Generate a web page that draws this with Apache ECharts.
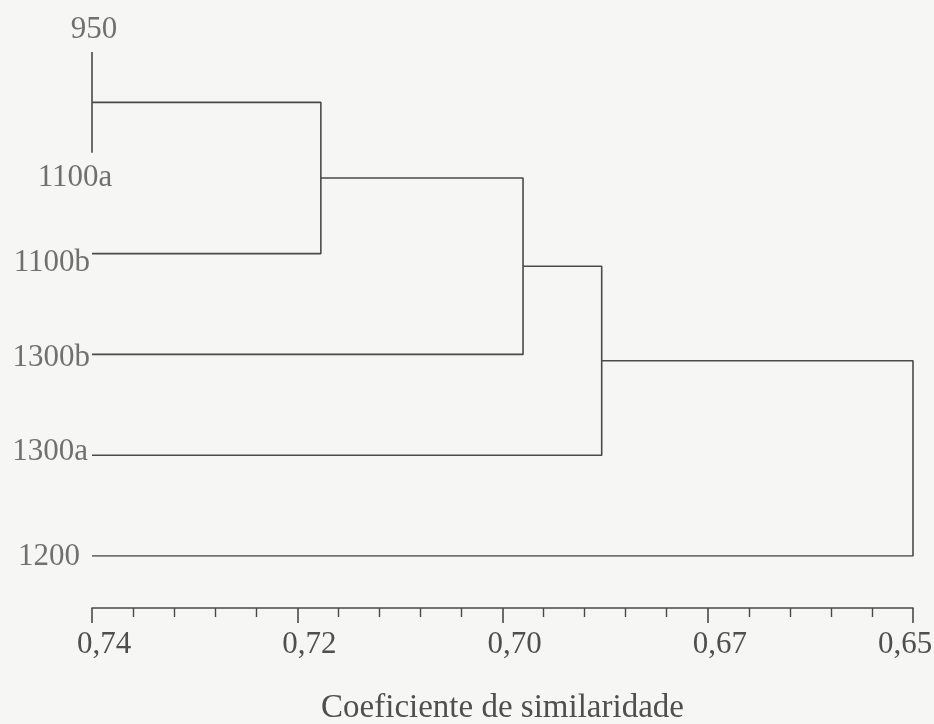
<!DOCTYPE html>
<html>
<head>
<meta charset="utf-8">
<script src="https://cdn.jsdelivr.net/npm/echarts@6/dist/echarts.min.js"></script>
<style>
  html, body { margin: 0; padding: 0; background: #f6f6f4; }
  #chart { width: 934px; height: 724px; }
</style>
</head>
<body>
<div id="chart"></div>
<script>
// ---- data ----
const leaves = ['950', '1100a', '1100b', '1300b', '1300a', '1200'];
const tickLabels = [0.74, 0.72, 0.70, 0.67, 0.65];
// merge k joins node mergeA[k] and node mergeB[k]; ids >= leaves.length are earlier merges
const mergeA = [0, 6, 7, 8, 9];
const mergeB = [1, 2, 3, 4, 5];
const mergeSim = [0.74, 0.7177, 0.697, 0.6855, 0.65];

// ---- helpers ----
// the printed axis labels are equally spaced: map a similarity onto label position
function toAxis(s) {
  for (let i = 0; i < tickLabels.length - 1; i++) {
    const a = tickLabels[i], b = tickLabels[i + 1];
    if (s <= a && s >= b) return i + (a - s) / (a - b);
  }
  return s > tickLabels[0] ? 0 : tickLabels.length - 1;
}

const nodes = leaves.map((n, i) => ({ x: 0, y: i }));
const series = [];
const lineColor = '#4a4a4a';
const textColor = '#4f4f4f';
const font = "'Liberation Serif', 'Times New Roman', serif";

mergeSim.forEach((s, k) => {
  const A = nodes[mergeA[k]], B = nodes[mergeB[k]];
  const u = toAxis(s);
  series.push({
    type: 'line',
    symbol: 'none',
    silent: true,
    lineStyle: { color: lineColor, width: 1.6 },
    data: [[A.x, A.y], [u, A.y], [u, B.y], [B.x, B.y]],
    animation: false
  });
  nodes.push({ x: u, y: (A.y + B.y) / 2 });
});

// leaf label placement (style only)
const leafLabelStyle = [
  { position: 'inside', offset: [2, -22] },
  { position: 'inside', offset: [-17, 25] },
  { position: 'left', distance: 2, offset: [0, 9] },
  { position: 'left', distance: 2, offset: [0, 3] },
  { position: 'left', distance: 4, offset: [0, -3] },
  { position: 'left', distance: 12, offset: [0, 1] }
];

series.push({
  type: 'scatter',
  symbolSize: 0,
  silent: true,
  animation: false,
  data: leaves.map((name, i) => ({
    value: [0, i],
    label: Object.assign({
      show: true,
      formatter: name,
      color: textColor,
      fontFamily: font,
      fontSize: 31
    }, leafLabelStyle[i])
  }))
});

const chart = echarts.init(document.getElementById('chart'));
chart.setOption({
  backgroundColor: '#f6f6f4',
  animation: false,
  grid: { left: 92, right: 21, top: 52, height: 504, containLabel: false, outerBoundsMode: 'none' },
  xAxis: {
    type: 'value',
    min: 0,
    max: tickLabels.length - 1,
    interval: 1,
    position: 'bottom',
    offset: 52,
    name: 'Coeficiente de similaridade',
    nameLocation: 'middle',
    nameGap: 84,
    nameTextStyle: { color: textColor, fontFamily: font, fontSize: 33 },
    axisLine: { show: true, onZero: false, lineStyle: { color: lineColor, width: 1.6 } },
    axisTick: { show: true, inside: false, length: 15, lineStyle: { color: lineColor, width: 1.6 } },
    minorTick: { show: true, splitNumber: 5, length: 9, lineStyle: { color: lineColor, width: 1.4 } },
    splitLine: { show: false },
    minorSplitLine: { show: false },
    axisLabel: {
      showMinLabel: true,
      showMaxLabel: true,
      margin: 21,
      color: textColor,
      fontFamily: font,
      fontSize: 31,
      formatter: function (v) {
        const i = Math.round(v);
        const t = tickLabels[i].toFixed(2).replace('.', ',');
        return i === tickLabels.length - 1 ? '{b|' + t + '}' : '{a|' + t + '}';
      },
      rich: {
        a: { padding: [0, 0, 0, 24], color: textColor, fontFamily: font, fontSize: 31 },
        b: { padding: [0, 16, 0, 0], color: textColor, fontFamily: font, fontSize: 31 }
      }
    }
  },
  yAxis: {
    type: 'value',
    min: 0,
    max: leaves.length - 1,
    inverse: true,
    show: false
  },
  series: series
});
</script>
</body>
</html>
